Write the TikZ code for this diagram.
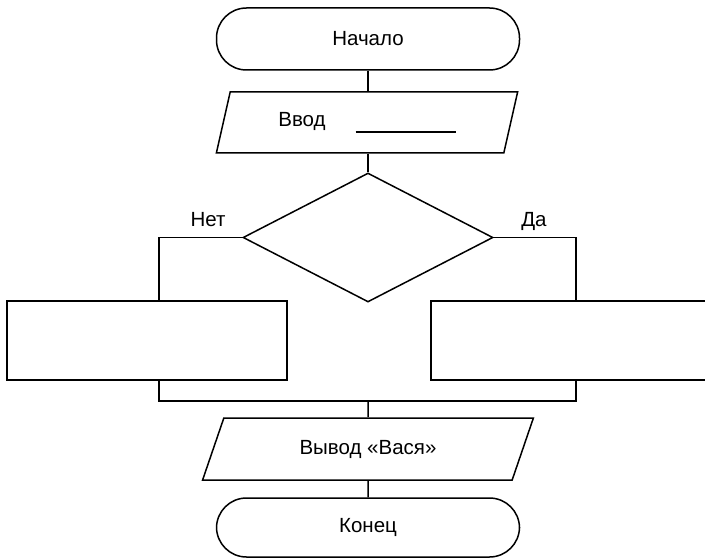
\documentclass[tikz,border=0pt]{standalone}
\usepackage{fontspec}
\setmainfont{Liberation Sans}
\usetikzlibrary{shapes.geometric}

\tikzset{
  term/.style={draw, rounded corners=30pt, minimum width=303pt, inner sep=0pt},
  io/.style={draw, trapezium, trapezium stretches=true, inner sep=0pt},
  cond/.style={draw, diamond, minimum width=250pt, minimum height=129pt, inner sep=0pt},
  blk/.style={draw, minimum height=79pt, inner sep=0pt},
}

\begin{document}
\begin{tikzpicture}[x=1pt, y=-1pt, line width=1.5pt,
    every node/.style={font=\fontsize{20.5}{24}\selectfont}]
    \clip (0,0) rectangle (705,559);

    \node [term, minimum height=62pt] (S) at (368,39) {Начало};
    \node [io, trapezium left angle=66, trapezium right angle=114,
           minimum width=302pt, minimum height=61pt] (In) at (367,122.5)
          {Ввод\hspace{30pt}\rule[-6pt]{100pt}{1.3pt}};
    \node [cond] (C) at (368,237.5) {};
    \node [blk, minimum width=280pt] (N) at (147,340.5) {};
    \node [blk, minimum width=281pt] (D) at (571.5,340.5) {};
    \node [io, trapezium left angle=61, trapezium right angle=119,
           minimum width=331pt, minimum height=62pt] (Out) at (368,449) {Вывод «Вася»};
    \node [term, minimum height=59pt] (E) at (368,527.5) {Конец};

    \node [anchor=base] (no) at (208,227) {Нет};
    \node [anchor=base] (yes) at (534,227) {Да};

    \coordinate (J) at (368,401);

    \path (S.south) edge (S.south |- In.north);
    \path (In.south -| C.north) edge (C.north);
    \draw (C.west) -| ([xshift=12pt]N.north);
    \draw (C.east) -| ([xshift=4.5pt]D.north);
    \draw ([xshift=12pt]N.south) |- (J) -| ([xshift=4.5pt]D.south);
    \path (J) edge (Out.north);
    \path (Out.south) edge (E.north);
\end{tikzpicture}
\end{document}
